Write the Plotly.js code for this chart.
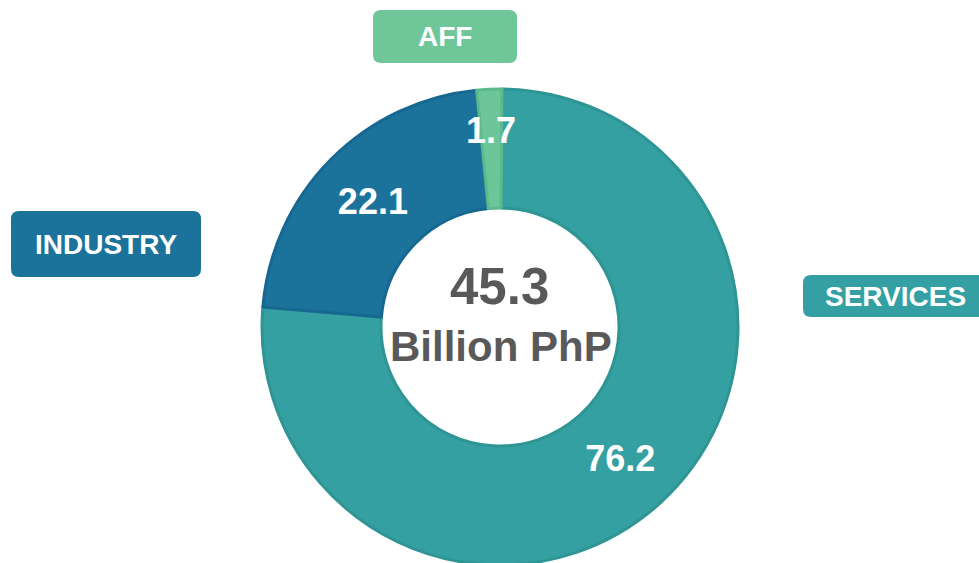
<!DOCTYPE html>
<html>
<head>
<meta charset="utf-8">
<script src="https://cdn.plot.ly/plotly-3.0.1.min.js"></script>
<style>
html,body{margin:0;padding:0;overflow:hidden;background:#fff;width:979px;height:563px;}
#chart{width:979px;height:565px;}
</style>
</head>
<body>
<div id="chart"></div>
<script>
// ---- data ----
var categories = ['SERVICES', 'INDUSTRY', 'AFF'];
var values = [76.2, 22.1, 1.7];
var centerValue = '45.3';
var centerUnit = 'Billion PhP';

// ---- styles ----
var sliceColors = ['#35a0a2', '#1b729b', '#6dc699'];
var lineColors = ['#2e9494', '#176890', '#5cb98b'];
var boxColors = ['#35a0a3', '#1b729b', '#6fc699'];
var W = 979, H = 565;
var FONT = 'Liberation Sans, Arial, Helvetica, sans-serif';

var cx = 500, cy = 327, R = 238, rotation = 0.5;

function px2x(p){ return p / W; }
function px2y(p){ return 1 - p / H; }

var total = values.reduce(function(a,b){return a+b;}, 0);
var insideText = values.map(function(v, i){ return (v / total < 0.05) ? '' : v.toFixed(1); });

var trace = {
  type: 'pie',
  labels: categories,
  values: values,
  sort: false,
  direction: 'clockwise',
  rotation: rotation,
  hole: 0.5,
  text: insideText,
  textinfo: 'text',
  textposition: 'inside',
  insidetextorientation: 'horizontal',
  textfont: {family: FONT, size: 36, color: '#ffffff', weight: 'bold'},
  marker: {colors: sliceColors, line: {color: lineColors, width: 3}},
  hoverinfo: 'none',
  showlegend: false,
  domain: {x: [px2x(cx - R), px2x(cx + R)], y: [0, px2y(cy - R)]}
};

// small-slice value label placed from data-derived angle
var annotations = [];
var cum = 0;
values.forEach(function(v, i){
  var frac = (cum + v / 2) / total;
  cum += v;
  if (v / total < 0.05) {
    var a = (rotation + 360 * frac) * Math.PI / 180;
    var rr = 197;
    annotations.push({
      x: px2x(cx + rr * Math.sin(a)), y: px2y(cy - rr * Math.cos(a)),
      xref: 'paper', yref: 'paper', showarrow: false,
      xanchor: 'center', yanchor: 'middle',
      text: v.toFixed(1),
      font: {family: FONT, size: 36, color: '#ffffff', weight: 'bold'}
    });
  }
});

// center text
annotations.push({x: px2x(cx), y: px2y(286), xref: 'paper', yref: 'paper', showarrow: false,
  xanchor: 'center', yanchor: 'middle', text: centerValue,
  font: {family: FONT, size: 51, color: '#595959', weight: 'bold'}});
annotations.push({x: px2x(cx + 1), y: px2y(346), xref: 'paper', yref: 'paper', showarrow: false,
  xanchor: 'center', yanchor: 'middle', text: centerUnit,
  font: {family: FONT, size: 42, color: '#595959', weight: 'bold'}});

// category label boxes (pixel rectangles: x0, y0, x1, y1)
var boxes = [
  [803, 275, 989, 317],
  [11, 211, 201, 277],
  [373, 10, 517, 63]
];
var boxFont = [28, 28, 28];

function roundRectPath(x0, y0, x1, y1, r){
  function P(x, y){ return px2x(x) + ',' + px2y(y); }
  return 'M' + P(x0 + r, y0) +
    ' L' + P(x1 - r, y0) + ' Q' + P(x1, y0) + ' ' + P(x1, y0 + r) +
    ' L' + P(x1, y1 - r) + ' Q' + P(x1, y1) + ' ' + P(x1 - r, y1) +
    ' L' + P(x0 + r, y1) + ' Q' + P(x0, y1) + ' ' + P(x0, y1 - r) +
    ' L' + P(x0, y0 + r) + ' Q' + P(x0, y0) + ' ' + P(x0 + r, y0) + ' Z';
}

var shapes = [];
categories.forEach(function(c, i){
  var b = boxes[i];
  shapes.push({type: 'path', xref: 'paper', yref: 'paper', path: roundRectPath(b[0], b[1], b[2], b[3], 8),
    fillcolor: boxColors[i], line: {width: 0}, layer: 'above'});
  var tx = (i === 0) ? 895 : (b[0] + b[2]) / 2;
  annotations.push({x: px2x(tx), y: px2y((b[1] + b[3]) / 2), xref: 'paper', yref: 'paper', showarrow: false,
    xanchor: 'center', yanchor: 'middle', text: c,
    font: {family: FONT, size: boxFont[i], color: '#ffffff', weight: 'bold'}});
});

var layout = {
  width: W, height: H,
  margin: {l: 0, r: 0, t: 0, b: 0},
  paper_bgcolor: '#ffffff',
  plot_bgcolor: '#ffffff',
  showlegend: false,
  shapes: shapes,
  annotations: annotations
};

Plotly.newPlot('chart', [trace], layout, {displayModeBar: false, staticPlot: true});
</script>
</body>
</html>
